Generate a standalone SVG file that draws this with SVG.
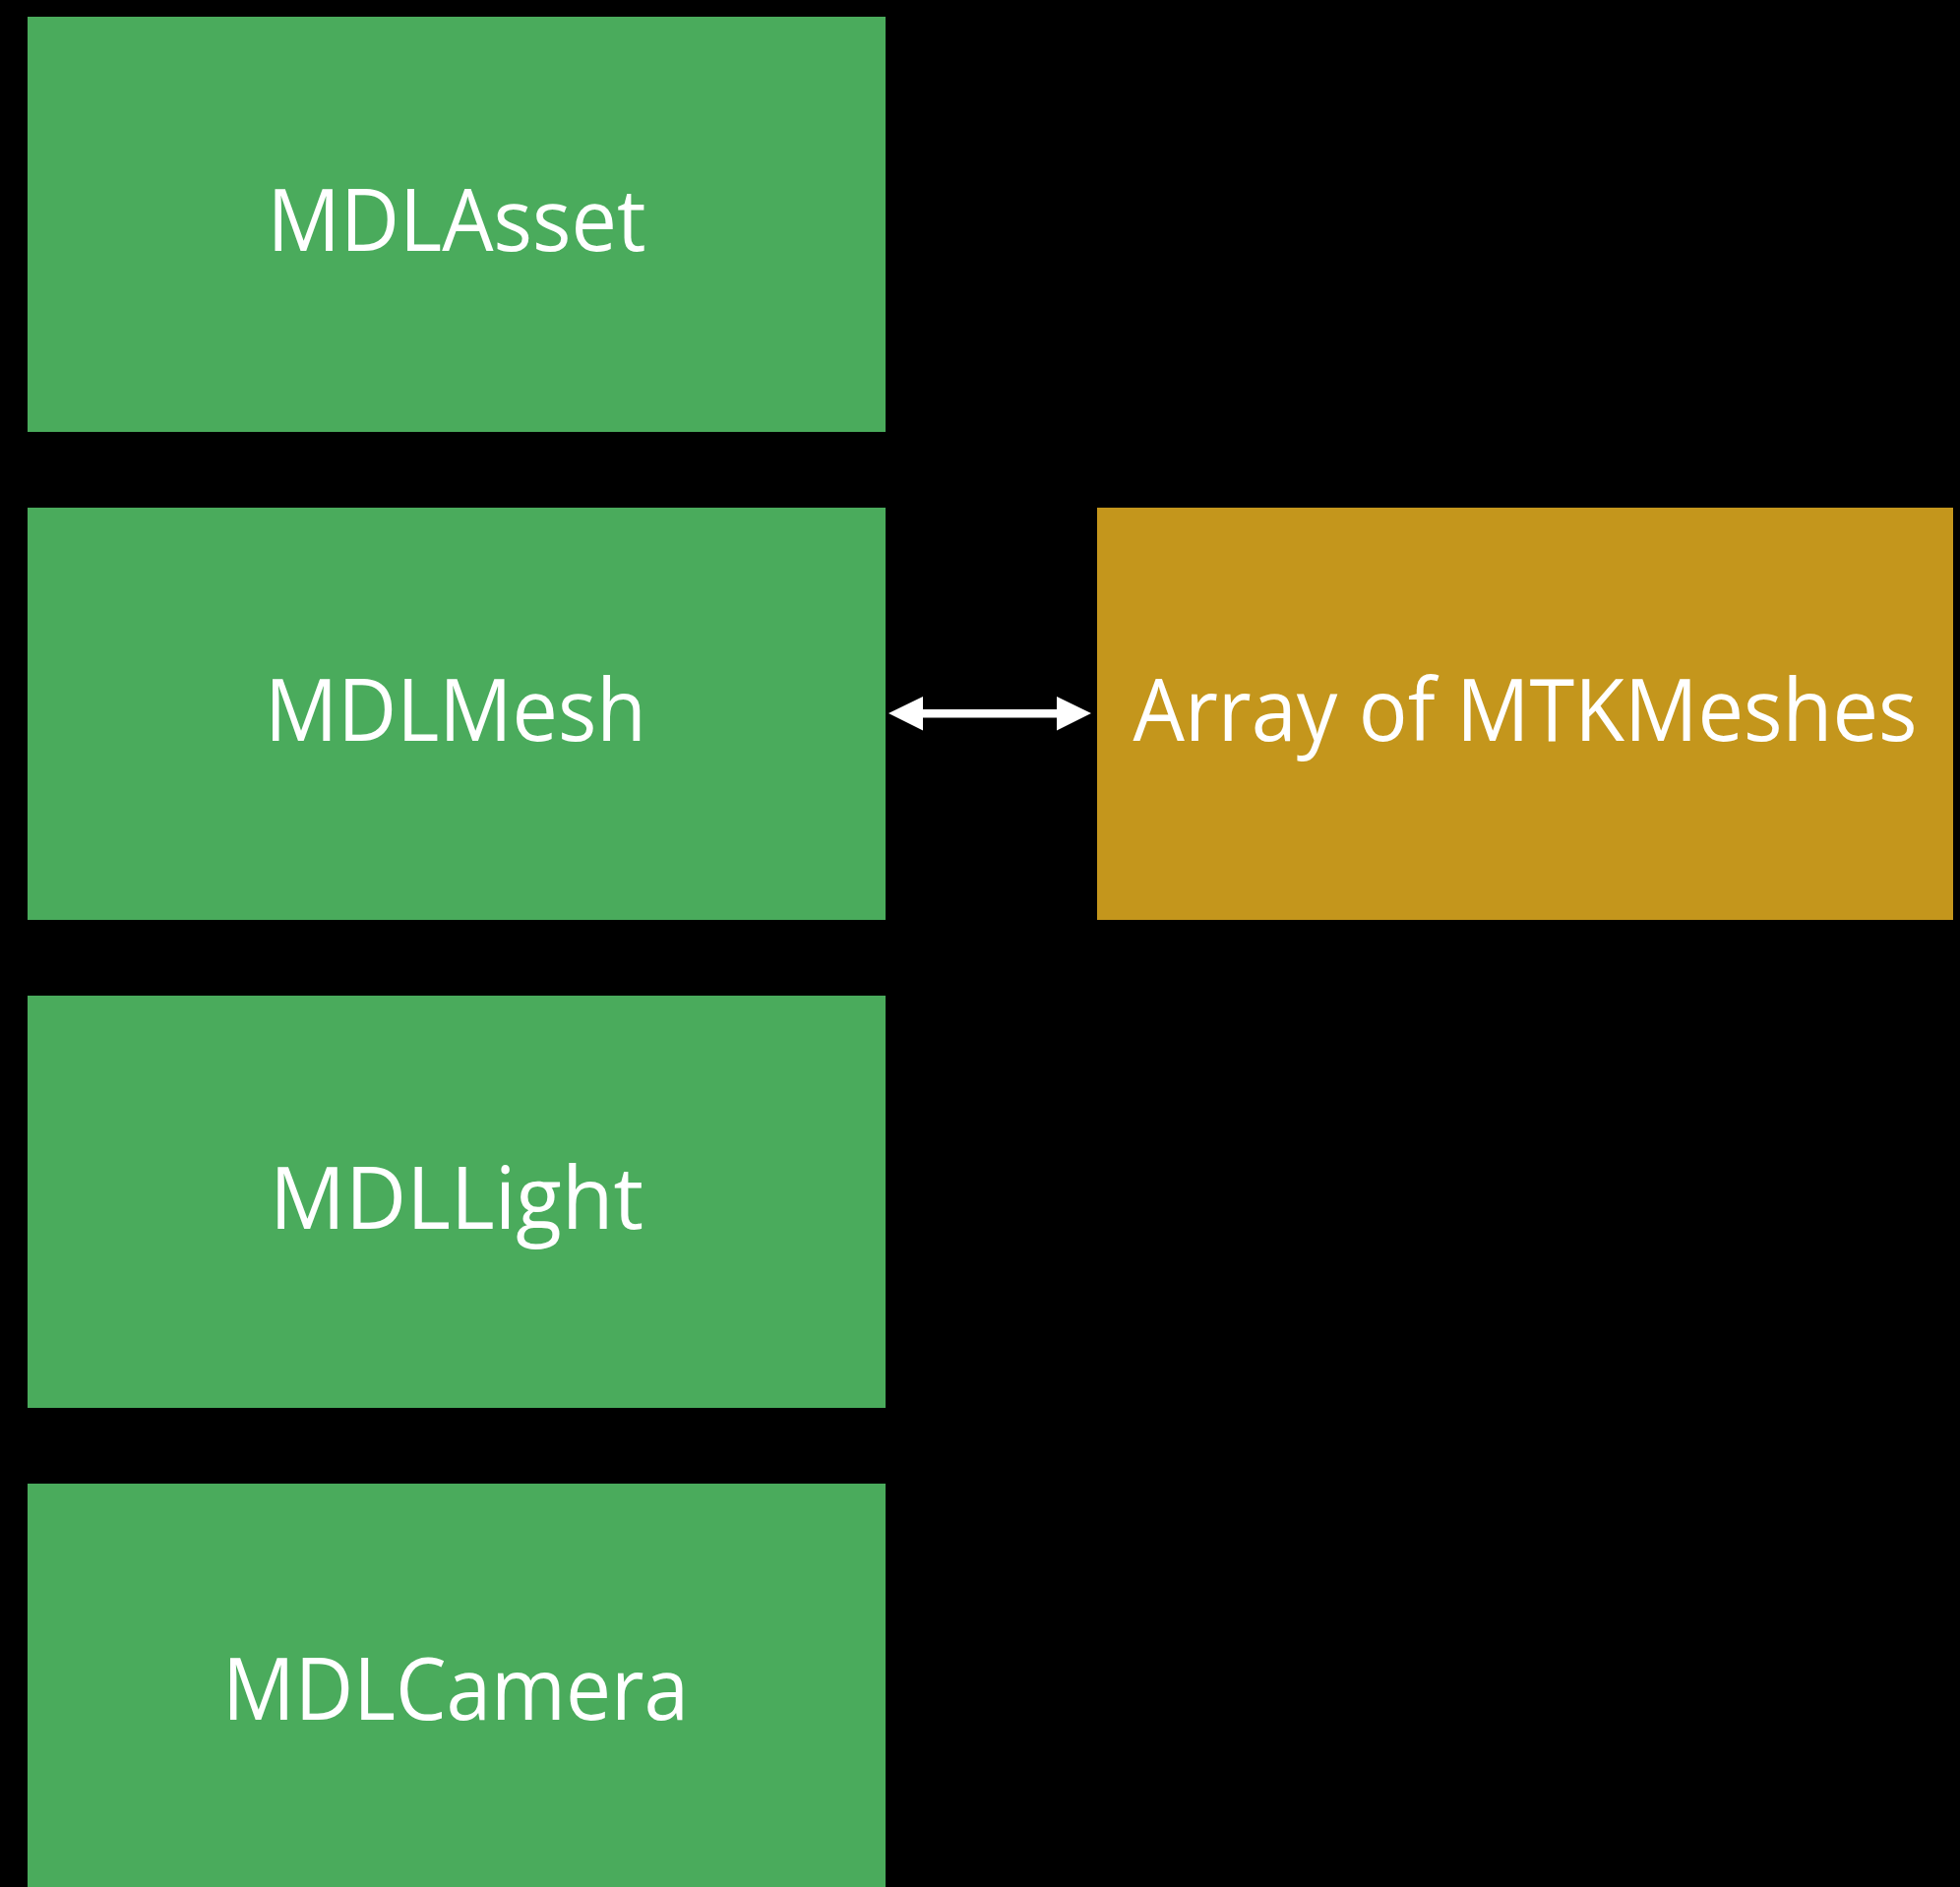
<svg xmlns="http://www.w3.org/2000/svg" width="1992" height="1918" viewBox="0 0 1992 1918">
<style>
.g{fill:#4AAB5C}
.o{fill:#C4961C}
.t{font-family:"Open Sans","Liberation Sans",sans-serif;font-size:88px;fill:#fff;text-anchor:middle}
</style>
<rect x="0" y="0" width="1992" height="1918" fill="#000"/>
<g id="mdlasset"><rect class="g" x="28" y="17" width="872" height="422"/><text class="t" x="464" y="255" textLength="385" lengthAdjust="spacingAndGlyphs">MDLAsset</text></g>
<g id="mdlmesh"><rect class="g" x="28" y="516" width="872" height="419"/><text class="t" x="463" y="753" textLength="388" lengthAdjust="spacingAndGlyphs">MDLMesh</text></g>
<g id="mdllight"><rect class="g" x="28" y="1012" width="872" height="419"/><text class="t" x="464" y="1249" textLength="380" lengthAdjust="spacingAndGlyphs">MDLLight</text></g>
<g id="mdlcamera"><rect class="g" x="28" y="1508" width="872" height="420"/><text class="t" x="463" y="1748" textLength="474" lengthAdjust="spacingAndGlyphs">MDLCamera</text></g>
<g id="mtkmeshes"><rect class="o" x="1115" y="516" width="870" height="419"/><text class="t" x="1550" y="753" textLength="797" lengthAdjust="spacingAndGlyphs">Array of MTKMeshes</text></g>
<g id="connectors">
<path d="M903,725 L938,708 L938,721 L1074,721 L1074,708 L1109,725 L1074,742.5 L1074,729.5 L938,729.5 L938,742.5 Z" fill="#fff"/>
</g>
</svg>
